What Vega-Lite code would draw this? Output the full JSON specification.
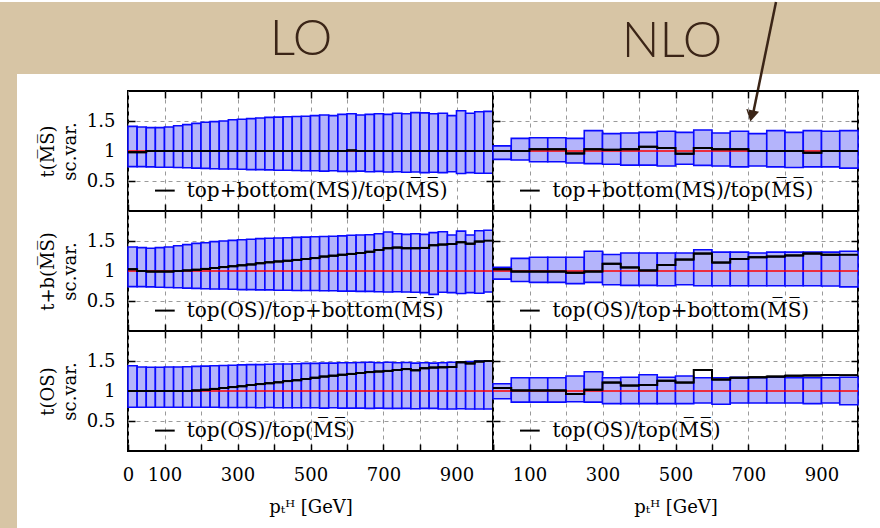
{
"$schema": "https://vega.github.io/schema/vega-lite/v6.json",
"padding": 0,
"background": "white",
"bounds": "flush",
"spacing": 0,
"config": {
  "font": "DejaVu Serif",
  "view": {"stroke": null},
  "axis": {
    "labelFont": "DejaVu Serif", "labelFontSize": 18, "labelColor": "black",
    "titleFont": "DejaVu Serif", "titleFontSize": 18, "titleFontWeight": "normal", "titleColor": "black",
    "tickColor": "black", "tickWidth": 1.5, "tickSize": -7,
    "domain": false,
    "gridColor": "#9a9a9a", "gridDash": [4, 4], "gridWidth": 1,
    "labelOverlap": false, "labelFlush": false
  }
},
"datasets": {
  "bins": [
{"p":"L1","x0":0,"x1":25,"lo":0.74,"hi":1.41,"c":0.98},
{"p":"L1","x0":25,"x1":50,"lo":0.74,"hi":1.40,"c":0.98},
{"p":"L1","x0":50,"x1":75,"lo":0.735,"hi":1.39,"c":1},
{"p":"L1","x0":75,"x1":100,"lo":0.73,"hi":1.39,"c":1},
{"p":"L1","x0":100,"x1":125,"lo":0.73,"hi":1.40,"c":1},
{"p":"L1","x0":125,"x1":150,"lo":0.725,"hi":1.42,"c":1},
{"p":"L1","x0":150,"x1":175,"lo":0.72,"hi":1.44,"c":1},
{"p":"L1","x0":175,"x1":200,"lo":0.715,"hi":1.46,"c":1},
{"p":"L1","x0":200,"x1":225,"lo":0.71,"hi":1.48,"c":1},
{"p":"L1","x0":225,"x1":250,"lo":0.705,"hi":1.49,"c":1},
{"p":"L1","x0":250,"x1":275,"lo":0.70,"hi":1.50,"c":1},
{"p":"L1","x0":275,"x1":300,"lo":0.70,"hi":1.52,"c":1},
{"p":"L1","x0":300,"x1":325,"lo":0.695,"hi":1.53,"c":1},
{"p":"L1","x0":325,"x1":350,"lo":0.69,"hi":1.54,"c":1},
{"p":"L1","x0":350,"x1":375,"lo":0.69,"hi":1.55,"c":1},
{"p":"L1","x0":375,"x1":400,"lo":0.685,"hi":1.56,"c":1},
{"p":"L1","x0":400,"x1":425,"lo":0.68,"hi":1.565,"c":1},
{"p":"L1","x0":425,"x1":450,"lo":0.68,"hi":1.57,"c":1},
{"p":"L1","x0":450,"x1":475,"lo":0.675,"hi":1.575,"c":1},
{"p":"L1","x0":475,"x1":500,"lo":0.67,"hi":1.58,"c":1},
{"p":"L1","x0":500,"x1":525,"lo":0.67,"hi":1.59,"c":1},
{"p":"L1","x0":525,"x1":550,"lo":0.665,"hi":1.60,"c":1},
{"p":"L1","x0":550,"x1":575,"lo":0.67,"hi":1.59,"c":1},
{"p":"L1","x0":575,"x1":600,"lo":0.66,"hi":1.61,"c":1},
{"p":"L1","x0":600,"x1":625,"lo":0.66,"hi":1.62,"c":1.01},
{"p":"L1","x0":625,"x1":650,"lo":0.665,"hi":1.60,"c":1},
{"p":"L1","x0":650,"x1":675,"lo":0.655,"hi":1.61,"c":1},
{"p":"L1","x0":675,"x1":700,"lo":0.66,"hi":1.62,"c":1},
{"p":"L1","x0":700,"x1":725,"lo":0.65,"hi":1.61,"c":1},
{"p":"L1","x0":725,"x1":750,"lo":0.655,"hi":1.63,"c":1},
{"p":"L1","x0":750,"x1":775,"lo":0.645,"hi":1.62,"c":1},
{"p":"L1","x0":775,"x1":800,"lo":0.65,"hi":1.64,"c":1},
{"p":"L1","x0":800,"x1":825,"lo":0.64,"hi":1.635,"c":1},
{"p":"L1","x0":825,"x1":850,"lo":0.645,"hi":1.62,"c":1},
{"p":"L1","x0":850,"x1":875,"lo":0.64,"hi":1.63,"c":1},
{"p":"L1","x0":875,"x1":900,"lo":0.655,"hi":1.59,"c":1},
{"p":"L1","x0":900,"x1":925,"lo":0.625,"hi":1.67,"c":1},
{"p":"L1","x0":925,"x1":950,"lo":0.64,"hi":1.63,"c":1},
{"p":"L1","x0":950,"x1":975,"lo":0.63,"hi":1.655,"c":1},
{"p":"L1","x0":975,"x1":1000,"lo":0.63,"hi":1.66,"c":1},
{"p":"L2","x0":0,"x1":25,"lo":0.74,"hi":1.40,"c":1.03},
{"p":"L2","x0":25,"x1":50,"lo":0.74,"hi":1.39,"c":1.0},
{"p":"L2","x0":50,"x1":75,"lo":0.735,"hi":1.38,"c":0.99},
{"p":"L2","x0":75,"x1":100,"lo":0.73,"hi":1.39,"c":0.99},
{"p":"L2","x0":100,"x1":125,"lo":0.725,"hi":1.40,"c":0.99},
{"p":"L2","x0":125,"x1":150,"lo":0.72,"hi":1.42,"c":1.0},
{"p":"L2","x0":150,"x1":175,"lo":0.715,"hi":1.44,"c":1.01},
{"p":"L2","x0":175,"x1":200,"lo":0.71,"hi":1.46,"c":1.02},
{"p":"L2","x0":200,"x1":225,"lo":0.705,"hi":1.47,"c":1.035},
{"p":"L2","x0":225,"x1":250,"lo":0.70,"hi":1.49,"c":1.05},
{"p":"L2","x0":250,"x1":275,"lo":0.70,"hi":1.50,"c":1.065},
{"p":"L2","x0":275,"x1":300,"lo":0.695,"hi":1.51,"c":1.08},
{"p":"L2","x0":300,"x1":325,"lo":0.69,"hi":1.52,"c":1.095},
{"p":"L2","x0":325,"x1":350,"lo":0.69,"hi":1.53,"c":1.11},
{"p":"L2","x0":350,"x1":375,"lo":0.685,"hi":1.54,"c":1.13},
{"p":"L2","x0":375,"x1":400,"lo":0.685,"hi":1.545,"c":1.145},
{"p":"L2","x0":400,"x1":425,"lo":0.68,"hi":1.55,"c":1.16},
{"p":"L2","x0":425,"x1":450,"lo":0.68,"hi":1.555,"c":1.17},
{"p":"L2","x0":450,"x1":475,"lo":0.675,"hi":1.56,"c":1.185},
{"p":"L2","x0":475,"x1":500,"lo":0.675,"hi":1.565,"c":1.20},
{"p":"L2","x0":500,"x1":525,"lo":0.675,"hi":1.57,"c":1.215},
{"p":"L2","x0":525,"x1":550,"lo":0.67,"hi":1.575,"c":1.24},
{"p":"L2","x0":550,"x1":575,"lo":0.67,"hi":1.58,"c":1.255},
{"p":"L2","x0":575,"x1":600,"lo":0.665,"hi":1.585,"c":1.27},
{"p":"L2","x0":600,"x1":625,"lo":0.665,"hi":1.595,"c":1.285},
{"p":"L2","x0":625,"x1":650,"lo":0.66,"hi":1.60,"c":1.30},
{"p":"L2","x0":650,"x1":675,"lo":0.66,"hi":1.605,"c":1.32},
{"p":"L2","x0":675,"x1":700,"lo":0.655,"hi":1.62,"c":1.35},
{"p":"L2","x0":700,"x1":725,"lo":0.65,"hi":1.65,"c":1.38},
{"p":"L2","x0":725,"x1":750,"lo":0.655,"hi":1.62,"c":1.39},
{"p":"L2","x0":750,"x1":775,"lo":0.65,"hi":1.61,"c":1.38},
{"p":"L2","x0":775,"x1":800,"lo":0.645,"hi":1.62,"c":1.38},
{"p":"L2","x0":800,"x1":825,"lo":0.64,"hi":1.61,"c":1.385},
{"p":"L2","x0":825,"x1":850,"lo":0.61,"hi":1.64,"c":1.43},
{"p":"L2","x0":850,"x1":875,"lo":0.645,"hi":1.655,"c":1.44},
{"p":"L2","x0":875,"x1":900,"lo":0.64,"hi":1.60,"c":1.45},
{"p":"L2","x0":900,"x1":925,"lo":0.625,"hi":1.665,"c":1.48},
{"p":"L2","x0":925,"x1":950,"lo":0.64,"hi":1.60,"c":1.455},
{"p":"L2","x0":950,"x1":975,"lo":0.63,"hi":1.67,"c":1.49},
{"p":"L2","x0":975,"x1":1000,"lo":0.65,"hi":1.68,"c":1.505},
{"p":"L3","x0":0,"x1":25,"lo":0.73,"hi":1.42,"c":1},
{"p":"L3","x0":25,"x1":50,"lo":0.73,"hi":1.40,"c":1},
{"p":"L3","x0":50,"x1":75,"lo":0.73,"hi":1.395,"c":1},
{"p":"L3","x0":75,"x1":100,"lo":0.73,"hi":1.395,"c":1},
{"p":"L3","x0":100,"x1":125,"lo":0.73,"hi":1.40,"c":1},
{"p":"L3","x0":125,"x1":150,"lo":0.73,"hi":1.40,"c":1},
{"p":"L3","x0":150,"x1":175,"lo":0.73,"hi":1.405,"c":1},
{"p":"L3","x0":175,"x1":200,"lo":0.73,"hi":1.41,"c":1.01},
{"p":"L3","x0":200,"x1":225,"lo":0.73,"hi":1.415,"c":1.02},
{"p":"L3","x0":225,"x1":250,"lo":0.73,"hi":1.42,"c":1.035},
{"p":"L3","x0":250,"x1":275,"lo":0.725,"hi":1.425,"c":1.05},
{"p":"L3","x0":275,"x1":300,"lo":0.725,"hi":1.43,"c":1.065},
{"p":"L3","x0":300,"x1":325,"lo":0.725,"hi":1.435,"c":1.08},
{"p":"L3","x0":325,"x1":350,"lo":0.725,"hi":1.44,"c":1.10},
{"p":"L3","x0":350,"x1":375,"lo":0.72,"hi":1.44,"c":1.115},
{"p":"L3","x0":375,"x1":400,"lo":0.725,"hi":1.445,"c":1.13},
{"p":"L3","x0":400,"x1":425,"lo":0.72,"hi":1.45,"c":1.145},
{"p":"L3","x0":425,"x1":450,"lo":0.72,"hi":1.45,"c":1.165},
{"p":"L3","x0":450,"x1":475,"lo":0.72,"hi":1.455,"c":1.18},
{"p":"L3","x0":475,"x1":500,"lo":0.72,"hi":1.46,"c":1.20},
{"p":"L3","x0":500,"x1":525,"lo":0.72,"hi":1.46,"c":1.22},
{"p":"L3","x0":525,"x1":550,"lo":0.715,"hi":1.465,"c":1.24},
{"p":"L3","x0":550,"x1":575,"lo":0.72,"hi":1.465,"c":1.255},
{"p":"L3","x0":575,"x1":600,"lo":0.715,"hi":1.47,"c":1.27},
{"p":"L3","x0":600,"x1":625,"lo":0.715,"hi":1.47,"c":1.285},
{"p":"L3","x0":625,"x1":650,"lo":0.715,"hi":1.475,"c":1.30},
{"p":"L3","x0":650,"x1":675,"lo":0.71,"hi":1.48,"c":1.315},
{"p":"L3","x0":675,"x1":700,"lo":0.715,"hi":1.47,"c":1.325},
{"p":"L3","x0":700,"x1":725,"lo":0.71,"hi":1.48,"c":1.335},
{"p":"L3","x0":725,"x1":750,"lo":0.71,"hi":1.47,"c":1.35},
{"p":"L3","x0":750,"x1":775,"lo":0.71,"hi":1.475,"c":1.365},
{"p":"L3","x0":775,"x1":800,"lo":0.705,"hi":1.465,"c":1.345},
{"p":"L3","x0":800,"x1":825,"lo":0.71,"hi":1.47,"c":1.38},
{"p":"L3","x0":825,"x1":850,"lo":0.71,"hi":1.465,"c":1.39},
{"p":"L3","x0":850,"x1":875,"lo":0.70,"hi":1.47,"c":1.395},
{"p":"L3","x0":875,"x1":900,"lo":0.70,"hi":1.48,"c":1.40},
{"p":"L3","x0":900,"x1":925,"lo":0.705,"hi":1.475,"c":1.48},
{"p":"L3","x0":925,"x1":950,"lo":0.70,"hi":1.49,"c":1.46},
{"p":"L3","x0":950,"x1":975,"lo":0.70,"hi":1.50,"c":1.49},
{"p":"L3","x0":975,"x1":1000,"lo":0.70,"hi":1.505,"c":1.50},
{"p":"R1","x0":0,"x1":50,"lo":0.86,"hi":1.085,"c":1.0},
{"p":"R1","x0":50,"x1":100,"lo":0.85,"hi":1.21,"c":1.0},
{"p":"R1","x0":100,"x1":150,"lo":0.82,"hi":1.22,"c":1.03},
{"p":"R1","x0":150,"x1":200,"lo":0.82,"hi":1.22,"c":1.03},
{"p":"R1","x0":200,"x1":250,"lo":0.80,"hi":1.21,"c":0.96},
{"p":"R1","x0":250,"x1":300,"lo":0.79,"hi":1.34,"c":1.03},
{"p":"R1","x0":300,"x1":350,"lo":0.78,"hi":1.29,"c":1.02},
{"p":"R1","x0":350,"x1":400,"lo":0.765,"hi":1.30,"c":1.03},
{"p":"R1","x0":400,"x1":450,"lo":0.765,"hi":1.31,"c":1.07},
{"p":"R1","x0":450,"x1":500,"lo":0.75,"hi":1.33,"c":1.05},
{"p":"R1","x0":500,"x1":550,"lo":0.78,"hi":1.31,"c":0.955},
{"p":"R1","x0":550,"x1":600,"lo":0.76,"hi":1.35,"c":1.05},
{"p":"R1","x0":600,"x1":650,"lo":0.75,"hi":1.30,"c":1.03},
{"p":"R1","x0":650,"x1":700,"lo":0.735,"hi":1.33,"c":1.03},
{"p":"R1","x0":700,"x1":750,"lo":0.75,"hi":1.29,"c":1.0},
{"p":"R1","x0":750,"x1":800,"lo":0.735,"hi":1.34,"c":1.0},
{"p":"R1","x0":800,"x1":850,"lo":0.725,"hi":1.31,"c":1.0},
{"p":"R1","x0":850,"x1":900,"lo":0.735,"hi":1.34,"c":0.97},
{"p":"R1","x0":900,"x1":950,"lo":0.735,"hi":1.33,"c":1.0},
{"p":"R1","x0":950,"x1":1000,"lo":0.715,"hi":1.34,"c":1.0},
{"p":"R2","x0":0,"x1":50,"lo":0.865,"hi":1.06,"c":1.03},
{"p":"R2","x0":50,"x1":100,"lo":0.825,"hi":1.21,"c":0.99},
{"p":"R2","x0":100,"x1":150,"lo":0.81,"hi":1.23,"c":0.99},
{"p":"R2","x0":150,"x1":200,"lo":0.81,"hi":1.23,"c":0.99},
{"p":"R2","x0":200,"x1":250,"lo":0.79,"hi":1.23,"c":0.97},
{"p":"R2","x0":250,"x1":300,"lo":0.81,"hi":1.33,"c":0.99},
{"p":"R2","x0":300,"x1":350,"lo":0.77,"hi":1.275,"c":1.12},
{"p":"R2","x0":350,"x1":400,"lo":0.76,"hi":1.30,"c":1.06},
{"p":"R2","x0":400,"x1":450,"lo":0.76,"hi":1.30,"c":1.01},
{"p":"R2","x0":450,"x1":500,"lo":0.755,"hi":1.30,"c":1.10},
{"p":"R2","x0":500,"x1":550,"lo":0.77,"hi":1.30,"c":1.19},
{"p":"R2","x0":550,"x1":600,"lo":0.755,"hi":1.355,"c":1.29},
{"p":"R2","x0":600,"x1":650,"lo":0.755,"hi":1.315,"c":1.14},
{"p":"R2","x0":650,"x1":700,"lo":0.755,"hi":1.315,"c":1.20},
{"p":"R2","x0":700,"x1":750,"lo":0.755,"hi":1.30,"c":1.23},
{"p":"R2","x0":750,"x1":800,"lo":0.755,"hi":1.315,"c":1.24},
{"p":"R2","x0":800,"x1":850,"lo":0.755,"hi":1.315,"c":1.26},
{"p":"R2","x0":850,"x1":900,"lo":0.755,"hi":1.315,"c":1.29},
{"p":"R2","x0":900,"x1":950,"lo":0.75,"hi":1.315,"c":1.27},
{"p":"R2","x0":950,"x1":1000,"lo":0.735,"hi":1.33,"c":1.27},
{"p":"R3","x0":0,"x1":50,"lo":0.87,"hi":1.12,"c":1.05},
{"p":"R3","x0":50,"x1":100,"lo":0.815,"hi":1.22,"c":1.01},
{"p":"R3","x0":100,"x1":150,"lo":0.815,"hi":1.22,"c":1.01},
{"p":"R3","x0":150,"x1":200,"lo":0.815,"hi":1.22,"c":1.01},
{"p":"R3","x0":200,"x1":250,"lo":0.82,"hi":1.25,"c":0.95},
{"p":"R3","x0":250,"x1":300,"lo":0.815,"hi":1.32,"c":1.02},
{"p":"R3","x0":300,"x1":350,"lo":0.79,"hi":1.22,"c":1.14},
{"p":"R3","x0":350,"x1":400,"lo":0.79,"hi":1.23,"c":1.09},
{"p":"R3","x0":400,"x1":450,"lo":0.79,"hi":1.27,"c":1.10},
{"p":"R3","x0":450,"x1":500,"lo":0.79,"hi":1.23,"c":1.17},
{"p":"R3","x0":500,"x1":550,"lo":0.79,"hi":1.25,"c":1.14},
{"p":"R3","x0":550,"x1":600,"lo":0.80,"hi":1.22,"c":1.35},
{"p":"R3","x0":600,"x1":650,"lo":0.78,"hi":1.22,"c":1.19},
{"p":"R3","x0":650,"x1":700,"lo":0.80,"hi":1.23,"c":1.22},
{"p":"R3","x0":700,"x1":750,"lo":0.80,"hi":1.22,"c":1.23},
{"p":"R3","x0":750,"x1":800,"lo":0.80,"hi":1.23,"c":1.24},
{"p":"R3","x0":800,"x1":850,"lo":0.80,"hi":1.22,"c":1.255},
{"p":"R3","x0":850,"x1":900,"lo":0.79,"hi":1.22,"c":1.26},
{"p":"R3","x0":900,"x1":950,"lo":0.80,"hi":1.22,"c":1.265},
{"p":"R3","x0":950,"x1":1000,"lo":0.77,"hi":1.23,"c":1.265}
  ]
},
"vconcat": [
  {
    "width": 880, "height": 72,
    "view": {"fill": "#d7c5a5", "stroke": null},
    "data": {"values": [{}]},
    "layer": [
      {"mark": {"type": "text", "text": "LO", "font": "Lato", "fontSize": 50, "fontWeight": 300, "color": "#3b2517"},
       "encoding": {"x": {"datum": 301, "type": "quantitative", "scale": {"domain": [0, 880], "nice": false}, "axis": null},
                    "y": {"datum": 38, "type": "quantitative", "scale": {"domain": [0, 72], "reverse": true, "nice": false}, "axis": null}}},
      {"mark": {"type": "text", "text": "NLO", "font": "Lato", "fontSize": 50, "fontWeight": 300, "color": "#3b2517"},
       "encoding": {"x": {"datum": 672, "type": "quantitative"}, "y": {"datum": 40, "type": "quantitative"}}},
      {"mark": {"type": "rule", "color": "#3b2517", "strokeWidth": 2.5},
       "encoding": {"x": {"datum": 776, "type": "quantitative"}, "y": {"datum": 0, "type": "quantitative"},
                    "x2": {"datum": 753}, "y2": {"datum": 112}}},
      {"mark": {"type": "point", "shape": "triangle-down", "filled": true, "size": 170, "angle": 12, "color": "#3b2517", "opacity": 1},
       "encoding": {"x": {"datum": 751.5, "type": "quantitative"}, "y": {"datum": 114, "type": "quantitative"}}}
    ]
  },
  {
    "hconcat": [
      {"width": 17, "height": 456, "view": {"fill": "#d7c5a5", "stroke": null},
       "data": {"values": [{}]}, "mark": {"type": "text", "text": ""}},
      {"vconcat": [
        {"width": 10, "height": 15, "data": {"values": [{}]}, "mark": {"type": "text", "text": ""}},
        {"columns": 2, "spacing": 0, "bounds": "flush",
         "concat": [
          {"width": 365, "height": 120, "view": {"stroke": "black", "strokeWidth": 2},
           "resolve": {"axis": {"x": "independent", "y": "independent"}},
           "layer": [
            {"data": {"name": "bins"}, "transform": [{"filter": "datum.p == 'L1'"}],
             "mark": {"type": "rect", "fill": "#b4b4fb", "stroke": "#0a0aff", "strokeWidth": 1.6},
             "encoding": {
               "x": {"field": "x0", "type": "quantitative", "scale": {"domain": [0, 1000], "nice": false},
                     "axis": {"values": [0,100,200,300,400,500,600,700,800,900,1000], "labels": false, "title": null, "grid": true}},
               "x2": {"field": "x1"},
               "y": {"field": "lo", "type": "quantitative", "scale": {"domain": [0, 2], "nice": false},
                     "axis": {"values": [0.5, 1, 1.5], "format": "~g", "grid": true, "labelPadding": 20, "title": ["t(M\u0305S\u0305)", "sc.var."], "titlePadding": 7, "titleLineHeight": 22}},
               "y2": {"field": "hi"}}},
            {"data": {"values": [{}]}, "mark": {"type": "rule", "color": "#ff0000", "strokeWidth": 1.6},
             "encoding": {"x": {"datum": 0, "type": "quantitative", "axis": null}, "x2": {"datum": 1000}, "y": {"datum": 1, "type": "quantitative", "axis": null}}},
            {"data": {"name": "bins"}, "transform": [{"filter": "datum.p == 'L1'"}],
             "mark": {"type": "line", "interpolate": "step-after", "color": "black", "strokeWidth": 2},
             "encoding": {"x": {"field": "x0", "type": "quantitative", "axis": {"orient": "top", "values": [100,200,300,400,500,600,700,800,900], "labels": false, "title": null, "grid": false}},
                          "y": {"field": "c", "type": "quantitative", "axis": {"orient": "right", "values": [0.5, 1, 1.5], "labels": false, "title": null, "grid": false}}}},
            {"data": {"name": "bins"}, "transform": [{"filter": "datum.p == 'L1'"}],
             "mark": {"type": "rule", "color": "black", "strokeWidth": 2},
             "encoding": {"x": {"field": "x0", "type": "quantitative", "axis": null}, "x2": {"field": "x1"}, "y": {"field": "c", "type": "quantitative", "axis": null}}},
            {"data": {"values": [{}]}, "mark": {"type": "rule", "color": "black", "strokeWidth": 2},
             "encoding": {"x": {"datum": 74, "type": "quantitative", "axis": null}, "x2": {"datum": 128}, "y": {"datum": 0.34, "type": "quantitative", "axis": null}}},
            {"data": {"values": [{}]}, "mark": {"type": "text", "text": "top+bottom(MS)/top(M\u0305S\u0305)", "align": "left", "baseline": "middle", "fontSize": 20, "font": "DejaVu Serif"},
             "encoding": {"x": {"datum": 161, "type": "quantitative", "axis": null}, "y": {"datum": 0.34, "type": "quantitative", "axis": null}}}
           ]},
          {"width": 365, "height": 120, "view": {"stroke": "black", "strokeWidth": 2},
           "resolve": {"axis": {"x": "independent", "y": "independent"}},
           "layer": [
            {"data": {"name": "bins"}, "transform": [{"filter": "datum.p == 'R1'"}],
             "mark": {"type": "rect", "fill": "#b4b4fb", "stroke": "#0a0aff", "strokeWidth": 1.6},
             "encoding": {
               "x": {"field": "x0", "type": "quantitative", "scale": {"domain": [0, 1000], "nice": false},
                     "axis": {"values": [0,100,200,300,400,500,600,700,800,900,1000], "labels": false, "title": null, "grid": true}},
               "x2": {"field": "x1"},
               "y": {"field": "lo", "type": "quantitative", "scale": {"domain": [0, 2], "nice": false},
                     "axis": {"values": [0.5, 1, 1.5], "labels": false, "grid": true, "title": null}},
               "y2": {"field": "hi"}}},
            {"data": {"values": [{}]}, "mark": {"type": "rule", "color": "#ff0000", "strokeWidth": 1.6},
             "encoding": {"x": {"datum": 0, "type": "quantitative", "axis": null}, "x2": {"datum": 1000}, "y": {"datum": 1, "type": "quantitative", "axis": null}}},
            {"data": {"name": "bins"}, "transform": [{"filter": "datum.p == 'R1'"}],
             "mark": {"type": "line", "interpolate": "step-after", "color": "black", "strokeWidth": 2},
             "encoding": {"x": {"field": "x0", "type": "quantitative", "axis": {"orient": "top", "values": [100,200,300,400,500,600,700,800,900], "labels": false, "title": null, "grid": false}},
                          "y": {"field": "c", "type": "quantitative", "axis": {"orient": "right", "values": [0.5, 1, 1.5], "labels": false, "title": null, "grid": false}}}},
            {"data": {"name": "bins"}, "transform": [{"filter": "datum.p == 'R1'"}],
             "mark": {"type": "rule", "color": "black", "strokeWidth": 2},
             "encoding": {"x": {"field": "x0", "type": "quantitative", "axis": null}, "x2": {"field": "x1"}, "y": {"field": "c", "type": "quantitative", "axis": null}}},
            {"data": {"values": [{}]}, "mark": {"type": "rule", "color": "black", "strokeWidth": 2},
             "encoding": {"x": {"datum": 74, "type": "quantitative", "axis": null}, "x2": {"datum": 128}, "y": {"datum": 0.34, "type": "quantitative", "axis": null}}},
            {"data": {"values": [{}]}, "mark": {"type": "text", "text": "top+bottom(MS)/top(M\u0305S\u0305)", "align": "left", "baseline": "middle", "fontSize": 20, "font": "DejaVu Serif"},
             "encoding": {"x": {"datum": 163, "type": "quantitative", "axis": null}, "y": {"datum": 0.34, "type": "quantitative", "axis": null}}}
           ]},
          {"width": 365, "height": 120, "view": {"stroke": "black", "strokeWidth": 2},
           "resolve": {"axis": {"x": "independent", "y": "independent"}},
           "layer": [
            {"data": {"name": "bins"}, "transform": [{"filter": "datum.p == 'L2'"}],
             "mark": {"type": "rect", "fill": "#b4b4fb", "stroke": "#0a0aff", "strokeWidth": 1.6},
             "encoding": {
               "x": {"field": "x0", "type": "quantitative", "scale": {"domain": [0, 1000], "nice": false},
                     "axis": {"values": [0,100,200,300,400,500,600,700,800,900,1000], "labels": false, "title": null, "grid": true}},
               "x2": {"field": "x1"},
               "y": {"field": "lo", "type": "quantitative", "scale": {"domain": [0, 2], "nice": false},
                     "axis": {"values": [0.5, 1, 1.5], "format": "~g", "grid": true, "labelPadding": 20, "title": ["t+b(M\u0305S\u0305)", "sc.var."], "titlePadding": 7, "titleLineHeight": 22}},
               "y2": {"field": "hi"}}},
            {"data": {"values": [{}]}, "mark": {"type": "rule", "color": "#ff0000", "strokeWidth": 1.6},
             "encoding": {"x": {"datum": 0, "type": "quantitative", "axis": null}, "x2": {"datum": 1000}, "y": {"datum": 1, "type": "quantitative", "axis": null}}},
            {"data": {"name": "bins"}, "transform": [{"filter": "datum.p == 'L2'"}],
             "mark": {"type": "line", "interpolate": "step-after", "color": "black", "strokeWidth": 2},
             "encoding": {"x": {"field": "x0", "type": "quantitative", "axis": {"orient": "top", "values": [100,200,300,400,500,600,700,800,900], "labels": false, "title": null, "grid": false}},
                          "y": {"field": "c", "type": "quantitative", "axis": {"orient": "right", "values": [0.5, 1, 1.5], "labels": false, "title": null, "grid": false}}}},
            {"data": {"name": "bins"}, "transform": [{"filter": "datum.p == 'L2'"}],
             "mark": {"type": "rule", "color": "black", "strokeWidth": 2},
             "encoding": {"x": {"field": "x0", "type": "quantitative", "axis": null}, "x2": {"field": "x1"}, "y": {"field": "c", "type": "quantitative", "axis": null}}},
            {"data": {"values": [{}]}, "mark": {"type": "rule", "color": "black", "strokeWidth": 2},
             "encoding": {"x": {"datum": 74, "type": "quantitative", "axis": null}, "x2": {"datum": 128}, "y": {"datum": 0.34, "type": "quantitative", "axis": null}}},
            {"data": {"values": [{}]}, "mark": {"type": "text", "text": "top(OS)/top+bottom(M\u0305S\u0305)", "align": "left", "baseline": "middle", "fontSize": 20, "font": "DejaVu Serif"},
             "encoding": {"x": {"datum": 161, "type": "quantitative", "axis": null}, "y": {"datum": 0.34, "type": "quantitative", "axis": null}}}
           ]},
          {"width": 365, "height": 120, "view": {"stroke": "black", "strokeWidth": 2},
           "resolve": {"axis": {"x": "independent", "y": "independent"}},
           "layer": [
            {"data": {"name": "bins"}, "transform": [{"filter": "datum.p == 'R2'"}],
             "mark": {"type": "rect", "fill": "#b4b4fb", "stroke": "#0a0aff", "strokeWidth": 1.6},
             "encoding": {
               "x": {"field": "x0", "type": "quantitative", "scale": {"domain": [0, 1000], "nice": false},
                     "axis": {"values": [0,100,200,300,400,500,600,700,800,900,1000], "labels": false, "title": null, "grid": true}},
               "x2": {"field": "x1"},
               "y": {"field": "lo", "type": "quantitative", "scale": {"domain": [0, 2], "nice": false},
                     "axis": {"values": [0.5, 1, 1.5], "labels": false, "grid": true, "title": null}},
               "y2": {"field": "hi"}}},
            {"data": {"values": [{}]}, "mark": {"type": "rule", "color": "#ff0000", "strokeWidth": 1.6},
             "encoding": {"x": {"datum": 0, "type": "quantitative", "axis": null}, "x2": {"datum": 1000}, "y": {"datum": 1, "type": "quantitative", "axis": null}}},
            {"data": {"name": "bins"}, "transform": [{"filter": "datum.p == 'R2'"}],
             "mark": {"type": "line", "interpolate": "step-after", "color": "black", "strokeWidth": 2},
             "encoding": {"x": {"field": "x0", "type": "quantitative", "axis": {"orient": "top", "values": [100,200,300,400,500,600,700,800,900], "labels": false, "title": null, "grid": false}},
                          "y": {"field": "c", "type": "quantitative", "axis": {"orient": "right", "values": [0.5, 1, 1.5], "labels": false, "title": null, "grid": false}}}},
            {"data": {"name": "bins"}, "transform": [{"filter": "datum.p == 'R2'"}],
             "mark": {"type": "rule", "color": "black", "strokeWidth": 2},
             "encoding": {"x": {"field": "x0", "type": "quantitative", "axis": null}, "x2": {"field": "x1"}, "y": {"field": "c", "type": "quantitative", "axis": null}}},
            {"data": {"values": [{}]}, "mark": {"type": "rule", "color": "black", "strokeWidth": 2},
             "encoding": {"x": {"datum": 74, "type": "quantitative", "axis": null}, "x2": {"datum": 128}, "y": {"datum": 0.34, "type": "quantitative", "axis": null}}},
            {"data": {"values": [{}]}, "mark": {"type": "text", "text": "top(OS)/top+bottom(M\u0305S\u0305)", "align": "left", "baseline": "middle", "fontSize": 20, "font": "DejaVu Serif"},
             "encoding": {"x": {"datum": 163, "type": "quantitative", "axis": null}, "y": {"datum": 0.34, "type": "quantitative", "axis": null}}}
           ]},
          {"width": 365, "height": 120, "view": {"stroke": "black", "strokeWidth": 2},
           "resolve": {"axis": {"x": "independent", "y": "independent"}},
           "layer": [
            {"data": {"name": "bins"}, "transform": [{"filter": "datum.p == 'L3'"}],
             "mark": {"type": "rect", "fill": "#b4b4fb", "stroke": "#0a0aff", "strokeWidth": 1.6},
             "encoding": {
               "x": {"field": "x0", "type": "quantitative", "scale": {"domain": [0, 1000], "nice": false},
                     "axis": {"values": [0,100,200,300,400,500,600,700,800,900,1000], "grid": true, "labelPadding": 22,
                              "labelExpr": "datum.value == 0 || datum.value % 200 == 100 ? datum.label : ''",
                              "title": "p\u209C\u1D34  [GeV]", "titlePadding": 14}},
               "x2": {"field": "x1"},
               "y": {"field": "lo", "type": "quantitative", "scale": {"domain": [0, 2], "nice": false},
                     "axis": {"values": [0.5, 1, 1.5], "format": "~g", "grid": true, "labelPadding": 20, "title": ["t(OS)", "sc.var."], "titlePadding": 7, "titleLineHeight": 22}},
               "y2": {"field": "hi"}}},
            {"data": {"values": [{}]}, "mark": {"type": "rule", "color": "#ff0000", "strokeWidth": 1.6},
             "encoding": {"x": {"datum": 0, "type": "quantitative", "axis": null}, "x2": {"datum": 1000}, "y": {"datum": 1, "type": "quantitative", "axis": null}}},
            {"data": {"name": "bins"}, "transform": [{"filter": "datum.p == 'L3'"}],
             "mark": {"type": "line", "interpolate": "step-after", "color": "black", "strokeWidth": 2},
             "encoding": {"x": {"field": "x0", "type": "quantitative", "axis": {"orient": "top", "values": [100,200,300,400,500,600,700,800,900], "labels": false, "title": null, "grid": false}},
                          "y": {"field": "c", "type": "quantitative", "axis": {"orient": "right", "values": [0.5, 1, 1.5], "labels": false, "title": null, "grid": false}}}},
            {"data": {"name": "bins"}, "transform": [{"filter": "datum.p == 'L3'"}],
             "mark": {"type": "rule", "color": "black", "strokeWidth": 2},
             "encoding": {"x": {"field": "x0", "type": "quantitative", "axis": null}, "x2": {"field": "x1"}, "y": {"field": "c", "type": "quantitative", "axis": null}}},
            {"data": {"values": [{}]}, "mark": {"type": "rule", "color": "black", "strokeWidth": 2},
             "encoding": {"x": {"datum": 74, "type": "quantitative", "axis": null}, "x2": {"datum": 128}, "y": {"datum": 0.34, "type": "quantitative", "axis": null}}},
            {"data": {"values": [{}]}, "mark": {"type": "text", "text": "top(OS)/top(M\u0305S\u0305)", "align": "left", "baseline": "middle", "fontSize": 20, "font": "DejaVu Serif"},
             "encoding": {"x": {"datum": 161, "type": "quantitative", "axis": null}, "y": {"datum": 0.34, "type": "quantitative", "axis": null}}}
           ]},
          {"width": 365, "height": 120, "view": {"stroke": "black", "strokeWidth": 2},
           "resolve": {"axis": {"x": "independent", "y": "independent"}},
           "layer": [
            {"data": {"name": "bins"}, "transform": [{"filter": "datum.p == 'R3'"}],
             "mark": {"type": "rect", "fill": "#b4b4fb", "stroke": "#0a0aff", "strokeWidth": 1.6},
             "encoding": {
               "x": {"field": "x0", "type": "quantitative", "scale": {"domain": [0, 1000], "nice": false},
                     "axis": {"values": [0,100,200,300,400,500,600,700,800,900,1000], "grid": true, "labelPadding": 22,
                              "labelExpr": "datum.value % 200 == 100 ? datum.label : ''",
                              "title": "p\u209C\u1D34  [GeV]", "titlePadding": 14}},
               "x2": {"field": "x1"},
               "y": {"field": "lo", "type": "quantitative", "scale": {"domain": [0, 2], "nice": false},
                     "axis": {"values": [0.5, 1, 1.5], "labels": false, "grid": true, "title": null}},
               "y2": {"field": "hi"}}},
            {"data": {"values": [{}]}, "mark": {"type": "rule", "color": "#ff0000", "strokeWidth": 1.6},
             "encoding": {"x": {"datum": 0, "type": "quantitative", "axis": null}, "x2": {"datum": 1000}, "y": {"datum": 1, "type": "quantitative", "axis": null}}},
            {"data": {"name": "bins"}, "transform": [{"filter": "datum.p == 'R3'"}],
             "mark": {"type": "line", "interpolate": "step-after", "color": "black", "strokeWidth": 2},
             "encoding": {"x": {"field": "x0", "type": "quantitative", "axis": {"orient": "top", "values": [100,200,300,400,500,600,700,800,900], "labels": false, "title": null, "grid": false}},
                          "y": {"field": "c", "type": "quantitative", "axis": {"orient": "right", "values": [0.5, 1, 1.5], "labels": false, "title": null, "grid": false}}}},
            {"data": {"name": "bins"}, "transform": [{"filter": "datum.p == 'R3'"}],
             "mark": {"type": "rule", "color": "black", "strokeWidth": 2},
             "encoding": {"x": {"field": "x0", "type": "quantitative", "axis": null}, "x2": {"field": "x1"}, "y": {"field": "c", "type": "quantitative", "axis": null}}},
            {"data": {"values": [{}]}, "mark": {"type": "rule", "color": "black", "strokeWidth": 2},
             "encoding": {"x": {"datum": 74, "type": "quantitative", "axis": null}, "x2": {"datum": 128}, "y": {"datum": 0.34, "type": "quantitative", "axis": null}}},
            {"data": {"values": [{}]}, "mark": {"type": "text", "text": "top(OS)/top(M\u0305S\u0305)", "align": "left", "baseline": "middle", "fontSize": 20, "font": "DejaVu Serif"},
             "encoding": {"x": {"datum": 163, "type": "quantitative", "axis": null}, "y": {"datum": 0.34, "type": "quantitative", "axis": null}}}
           ]}
         ]}
      ], "spacing": 0}
    ],
    "spacing": 21
  }
]
}
